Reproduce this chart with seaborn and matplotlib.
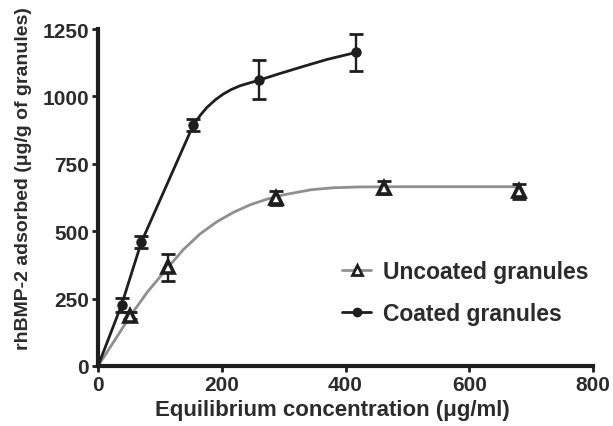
import matplotlib
matplotlib.use("Agg")
import matplotlib.pyplot as plt
import seaborn as sns
from matplotlib.lines import Line2D

# ---- data ----
coated_x = [38, 70, 154, 260, 417]
coated_y = [226, 459, 894, 1062, 1163]
coated_err = [26, 23, 21, 72, 68]

uncoated_x = [52, 113, 288, 462, 680]
uncoated_y = [187, 366, 623, 662, 648]
uncoated_err = [12, 50, 27, 24, 27]

# fitted curves
coated_fit_x = [0, 38, 70, 110, 154, 166, 176, 190, 202, 215, 229, 245, 260, 290, 330, 370, 417]
coated_fit_y = [0, 226, 459, 666, 894, 932, 959, 988, 1008, 1025, 1039, 1050, 1060, 1082, 1110, 1137, 1163]

uncoated_fit_x = [0, 26, 52, 80, 111, 138, 165, 192, 219, 246, 272, 300, 345, 380, 420, 480, 680]
uncoated_fit_y = [0, 92, 185, 275, 360, 432, 490, 535, 570, 598, 618, 635, 654, 661, 664, 665, 665]

x_ticks = [0, 200, 400, 600, 800]
y_ticks = [0, 250, 500, 750, 1000, 1250]

labels = ["Uncoated granules", "Coated granules"]
x_label = "Equilibrium concentration (\u03bcg/ml)"
y_label = "rhBMP-2 adsorbed (\u03bcg/g of granules)"

sns.set_theme(style="ticks")
plt.rcParams["font.family"] = ["Liberation Sans", "DejaVu Sans"]
plt.rcParams["font.weight"] = "bold"

dark = "#1e1e1e"
gray = "#8f8f8f"
txt = "#2b2b2b"

fig = plt.figure(figsize=(6.13, 4.27), dpi=100)
ax = fig.add_axes([98 / 613, 1 - 367 / 427, 495 / 613, 337 / 427])

sns.lineplot(x=uncoated_fit_x, y=uncoated_fit_y, sort=False, estimator=None,
             color=gray, linewidth=2.0, ax=ax)
sns.lineplot(x=coated_fit_x, y=coated_fit_y, sort=False, estimator=None,
             color=dark, linewidth=2.0, ax=ax)

ax.errorbar(uncoated_x, uncoated_y, yerr=uncoated_err, fmt="none", ecolor=dark,
            elinewidth=1.7, capsize=5.2, capthick=2.0, zorder=3)
ax.errorbar(coated_x, coated_y, yerr=coated_err, fmt="none", ecolor=dark,
            elinewidth=1.7, capsize=5.2, capthick=2.0, zorder=3)

ax.plot(uncoated_x, uncoated_y, linestyle="none", marker="^", markersize=8,
        markerfacecolor="white", markeredgecolor=dark, markeredgewidth=2.6, zorder=4)
ax.plot(coated_x, coated_y, linestyle="none", marker="o", markersize=6.5,
        markerfacecolor=dark, markeredgecolor=dark, zorder=4)

ax.set_xlim(0, 800)
ax.set_ylim(0, 1250)
ax.set_xticks(x_ticks)
ax.set_yticks(y_ticks)
ax.set_xticklabels([str(v) for v in x_ticks])
ax.set_yticklabels([str(v) for v in y_ticks])

sns.despine(ax=ax)
for s in ["left", "bottom"]:
    ax.spines[s].set_linewidth(3.0)
    ax.spines[s].set_color(dark)
    ax.spines[s].set_capstyle("projecting")
ax.tick_params(axis="both", direction="out", length=4.5, width=2.0, color=dark,
               labelsize=15, labelcolor=txt, pad=2)
for lab in ax.get_xticklabels() + ax.get_yticklabels():
    lab.set_fontweight("bold")

ax.set_xlabel(x_label, fontsize=16, fontweight="bold", color=txt)
ax.set_ylabel(y_label, fontsize=14, fontweight="bold", color=txt)
ax.xaxis.label.set_verticalalignment("center")
ax.xaxis.set_label_coords((332 - 98) / 495, (367 - 411) / 337)
ax.yaxis.label.set_verticalalignment("center")
ax.yaxis.label.set_horizontalalignment("center")
ax.yaxis.set_label_coords((24 - 98) / 495, (367 - 179) / 337)

handles = [
    Line2D([0], [0], color=gray, linewidth=2.0, marker="^", markersize=7,
           markerfacecolor="white", markeredgecolor=dark, markeredgewidth=2.0),
    Line2D([0], [0], color=dark, linewidth=2.0, marker="o", markersize=6,
           markerfacecolor=dark, markeredgecolor=dark),
]
leg = fig.legend(handles, labels, loc="upper left",
                 bbox_to_anchor=(342 / 613, 1 - 261 / 427),
                 frameon=False, fontsize=16.5, handlelength=1.27, handletextpad=0.52,
                 labelspacing=0.85, borderpad=0, borderaxespad=0)
for t in leg.get_texts():
    t.set_fontweight("bold")
    t.set_color(txt)

fig.savefig("out.png", dpi=100, facecolor="white")
